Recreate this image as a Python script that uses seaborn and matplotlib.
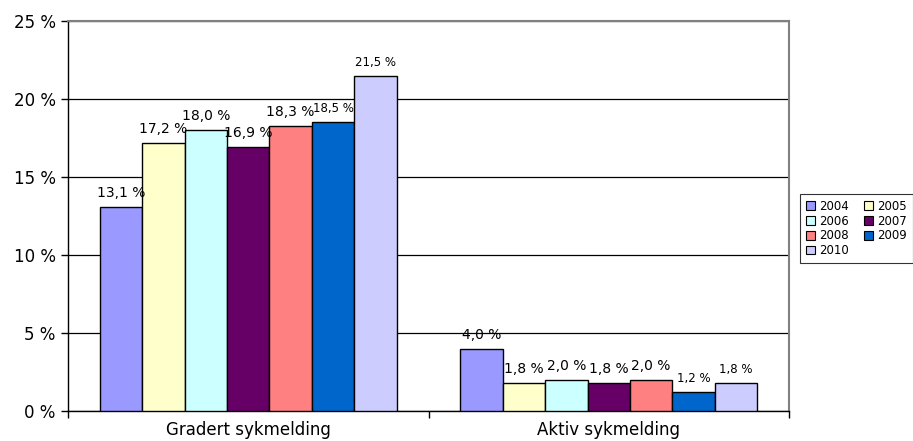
import numpy as np
import pandas as pd
import matplotlib
matplotlib.use("Agg")
import matplotlib.pyplot as plt
from matplotlib.patches import Patch
import seaborn as sns

categories = ["Gradert sykmelding", "Aktiv sykmelding"]
years = ["2004", "2005", "2006", "2007", "2008", "2009", "2010"]
gradert = [13.1, 17.2, 18.0, 16.9, 18.3, 18.5, 21.5]
aktiv = [4.0, 1.8, 2.0, 1.8, 2.0, 1.2, 1.8]
colors = ["#9999FF", "#FFFFCC", "#CCFFFF", "#660066", "#FF8080", "#0066CC", "#CCCCFF"]
label_sizes = [10, 10, 10, 10, 10, 8.5, 8.5]
yticks = [0, 5, 10, 15, 20, 25]

rows = []
for cat, vals in zip(categories, [gradert, aktiv]):
    for yr, v in zip(years, vals):
        rows.append({"kategori": cat, "år": yr, "verdi": v})
df = pd.DataFrame(rows)

sns.set_theme(style="white")
plt.rcParams["font.family"] = ["DejaVu Sans"]
plt.rcParams.update({"text.color": "black", "xtick.color": "black",
                     "ytick.color": "black", "axes.labelcolor": "black"})

fig = plt.figure(figsize=(9.13, 4.41), dpi=100)
ax = fig.add_axes([68 / 913, 1 - 411 / 441, (789 - 68) / 913, (411 - 21) / 441])

sns.barplot(data=df, x="kategori", y="verdi", hue="år", order=categories,
            hue_order=years, palette=colors, width=0.824, gap=0,
            edgecolor="black", linewidth=1.0, saturation=1, legend=False,
            errorbar=None, ax=ax, zorder=3)

for cont, fs in zip(ax.containers, label_sizes):
    labels = [f"{b.get_height():.1f} %".replace(".", ",") for b in cont]
    ax.bar_label(cont, labels=labels, padding=5, fontsize=fs, color="black")

ax.set_xlim(-0.5, 1.5)
ax.set_ylim(0, 25)
ax.set_yticks(yticks)
ax.set_yticklabels([f"{t} %" for t in yticks], fontsize=12)
ax.yaxis.grid(True, color="black", linewidth=0.9, zorder=0)
ax.set_axisbelow(True)
ax.set_xlabel("")
ax.set_ylabel("")
ax.set_xticks([0, 1])
ax.set_xticklabels(categories, fontsize=12)
ax.set_xticks([-0.5, 0.5, 1.5], minor=True)
ax.tick_params(axis="x", which="major", length=0, pad=7)
ax.tick_params(axis="x", which="minor", length=5, width=1, color="black", direction="out", bottom=True)
ax.tick_params(axis="y", length=5, width=1, color="black", direction="out", left=True, pad=4)

for side in ["left", "bottom"]:
    ax.spines[side].set_color("black")
    ax.spines[side].set_linewidth(1.0)
for side in ["top", "right"]:
    ax.spines[side].set_visible(True)
    ax.spines[side].set_color("#808080")
    ax.spines[side].set_linewidth(1.5)

# legend laid out row-wise: 2004 2005 / 2006 2007 / 2008 2009 / 2010
order = [0, 2, 4, 6, 1, 3, 5]
handles = [Patch(facecolor=colors[i], edgecolor="black", linewidth=0.8, label=years[i]) for i in order]
leg = fig.legend(handles=handles, ncol=2, loc="upper left",
                 bbox_to_anchor=(800 / 913, 1 - 194 / 441), fontsize=8.5,
                 frameon=True, fancybox=False, edgecolor="black",
                 handlelength=0.75, handleheight=0.75, handletextpad=0.35,
                 columnspacing=1.3, labelspacing=0.15, borderpad=0.5,
                 borderaxespad=0)
leg.get_frame().set_linewidth(0.8)

fig.savefig("out.png", dpi=100, facecolor="white")
